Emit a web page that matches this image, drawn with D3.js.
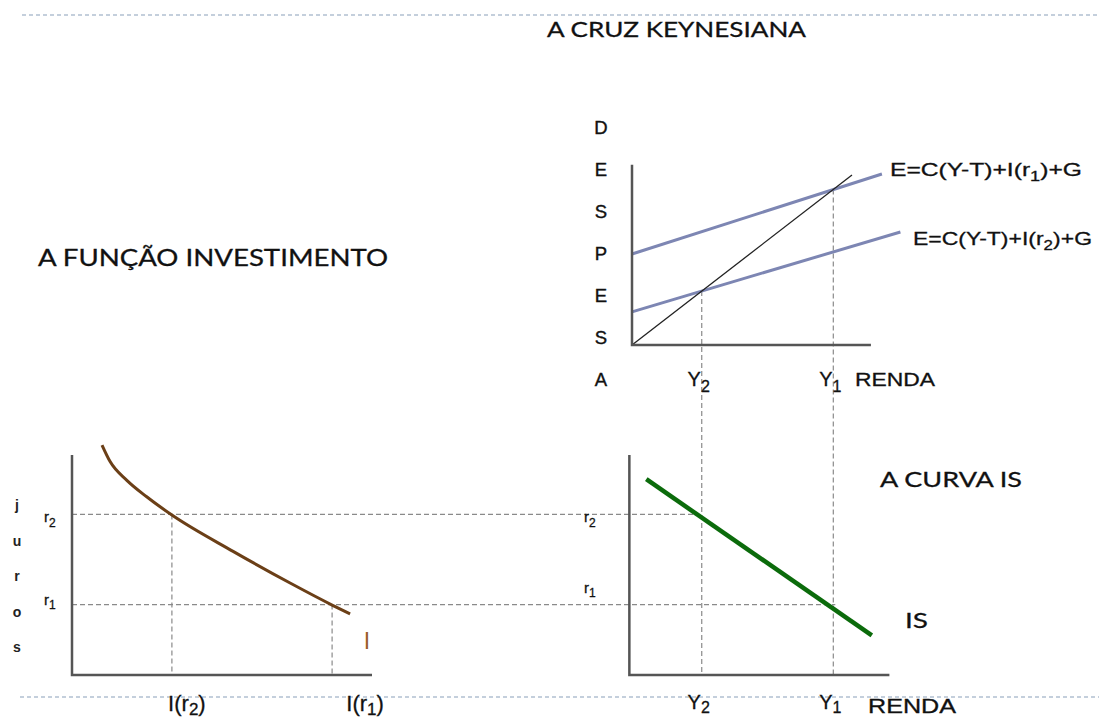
<!DOCTYPE html>
<html><head><meta charset="utf-8">
<script src="https://cdn.jsdelivr.net/npm/d3@7"></script>
<style>html,body{margin:0;padding:0;background:#fff}svg{display:block}</style>
</head><body>
<svg id="c" width="1099" height="718"></svg>
<script>
// ---------- data ----------
const titles = ["A CRUZ KEYNESIANA", "A FUNÇÃO INVESTIMENTO", "A CURVA IS"];
const despesaLetters = ["D","E","S","P","E","S","A"];
const jurosLetters = ["j","u","r","o","s"];
const line45 = [[0,0],[100,100]];
const eUpper = [[0,53.5],[113.6,100.6]];   // E=C(Y-T)+I(r1)+G
const eLower = [[0,19.5],[122,66.5]];      // E=C(Y-T)+I(r2)+G
const incomeLevels = [{name:"Y", sub:"2", value:31.7, eLevel:31.7}, {name:"Y", sub:"1", value:91.5, eLevel:91.5}];
const rateLevels = [{name:"r", sub:"2", value:73}, {name:"r", sub:"1", value:32}];
const investCurve = [[10,104.5],[12.7,97],[18.2,88.6],[24.9,81],[33.3,72.7],[53.7,56.2],[72.7,41.8],[86.7,31.8],[92.7,27.8]];
const investAt = [{sub:"2", value:33.3, r:73},{sub:"1", value:86.7, r:32}];
const isCurve = [[6.5,89],[109,18]];

// ---------- scales ----------
const svg = d3.select("#c");
const xK = d3.scaleLinear().domain([0,100]).range([632,852]);
const yK = d3.scaleLinear().domain([0,100]).range([345,175]);
const xI = d3.scaleLinear().domain([0,100]).range([72,372]);
const yR = d3.scaleLinear().domain([0,100]).range([675,455]);
const line = (xs, ys) => d3.line().x(d=>xs(d[0])).y(d=>ys(d[1]));

const txtFont = "'Liberation Sans', Arial, sans-serif";
const titleFont = "Lato, 'Open Sans', sans-serif";
const axisCol = "#555", dashCol = "#8a8a8a";

// decorative dotted rules
svg.append("line").attr("x1",22).attr("x2",1099).attr("y1",15).attr("y2",15)
  .attr("stroke","#c4cfdc").attr("stroke-width",2).attr("stroke-dasharray","4,3");
svg.append("line").attr("x1",20).attr("x2",1099).attr("y1",697).attr("y2",697)
  .attr("stroke","#c4cfdc").attr("stroke-width",2).attr("stroke-dasharray","4,3");

// titles
function title(x,y,txt,size,len){
  svg.append("text").attr("x",x).attr("y",y).attr("font-family",titleFont).attr("font-size",size)
    .attr("fill","#111").attr("stroke","#111").attr("stroke-width",0.3)
    .attr("textLength",len).attr("lengthAdjust","spacingAndGlyphs").text(txt);
}
title(547,37,titles[0],22,259);
title(38,266,titles[1],23,350);
title(880,487,titles[2],22,142);

// ---------- dashed guides ----------
const g = svg.append("g").attr("stroke",dashCol).attr("stroke-width",1.2).attr("stroke-dasharray","5,3").attr("fill","none");
incomeLevels.forEach(d=>{
  g.append("line").attr("x1",xK(d.value)).attr("x2",xK(d.value)).attr("y1",yK(d.eLevel)).attr("y2",yR(0));
});
rateLevels.forEach((d,i)=>{
  g.append("line").attr("x1",xI(0)).attr("x2",xK(incomeLevels[i].value)+(i===1?2:-3)).attr("y1",yR(d.value)).attr("y2",yR(d.value));
});
investAt.forEach(d=>{
  g.append("line").attr("x1",xI(d.value)).attr("x2",xI(d.value)).attr("y1",yR(d.r)).attr("y2",yR(0));
});

// ---------- Keynesian cross ----------
svg.append("path").attr("d",line(xK,yK)(eUpper)).attr("stroke","#7d86b3").attr("stroke-width",3).attr("fill","none");
svg.append("path").attr("d",line(xK,yK)(eLower)).attr("stroke","#7d86b3").attr("stroke-width",3).attr("fill","none");
svg.append("path").attr("d",line(xK,yK)(line45)).attr("stroke","#222").attr("stroke-width",1.3).attr("fill","none");
svg.append("path").attr("d",`M${xK(0)},${yK(106)}V${yK(0)}H${xK(108.6)}`).attr("stroke",axisCol).attr("stroke-width",2.5).attr("fill","none");

despesaLetters.forEach((l,i)=>{
  svg.append("text").attr("x",601).attr("y",134+i*42).attr("text-anchor","middle")
    .attr("font-family",txtFont).attr("font-size",18.5).attr("fill","#111").attr("stroke","#111").attr("stroke-width",0.4).text(l);
});
function subLabel(x,y,name,sub,size,anchor,dyf){
  const t = svg.append("text").attr("x",x).attr("y",y).attr("text-anchor",anchor||"start")
    .attr("font-family",txtFont).attr("font-size",size).attr("fill","#111").attr("stroke","#111").attr("stroke-width",0.3);
  t.append("tspan").text(name);
  t.append("tspan").attr("dy",size*(dyf==null?0.3:dyf)).attr("font-size",size*0.8).text(sub);
  return t;
}
incomeLevels.forEach(d=>{
  subLabel(xK(d.value)-3,386,d.name,d.sub,20,"middle");
});
svg.append("text").attr("x",855).attr("y",386).attr("font-family",txtFont).attr("font-size",18.5)
  .attr("fill","#111").attr("stroke","#111").attr("stroke-width",0.3).attr("textLength",80).attr("lengthAdjust","spacingAndGlyphs").text("RENDA");

function eqLabel(x,y,sub,len){
  const t = svg.append("text").attr("x",x).attr("y",y).attr("font-family",txtFont).attr("font-size",19)
    .attr("fill","#111").attr("stroke","#111").attr("stroke-width",0.3)
    .attr("textLength",len).attr("lengthAdjust","spacingAndGlyphs");
  t.append("tspan").text("E=C(Y-T)+I(r");
  t.append("tspan").attr("dy",5).attr("font-size",14).text(sub);
  t.append("tspan").attr("dy",-5).text(")+G");
  return t;
}
eqLabel(890,176,"1",192);
eqLabel(913,245,"2",179);

// ---------- investment function ----------
svg.append("path").attr("d",line(xI,yR).curve(d3.curveMonotoneX)(investCurve))
  .attr("stroke","#6b3f17").attr("stroke-width",3).attr("fill","none");
svg.append("path").attr("d",`M${xI(0)},${yR(100)}V${yR(0)}H${xI(100)}`).attr("stroke",axisCol).attr("stroke-width",2.5).attr("fill","none");
svg.append("text").attr("x",367).attr("y",649).attr("text-anchor","middle").attr("font-family",txtFont).attr("font-size",23).attr("fill","#9a6028").text("I");

jurosLetters.forEach((l,i)=>{
  svg.append("text").attr("x",17).attr("y",510+i*35.5).attr("text-anchor","middle")
    .attr("font-family",txtFont).attr("font-size",14).attr("font-weight","bold").attr("fill","#222").text(l);
});
rateLevels.forEach(d=>{
  subLabel(44,yR(d.value)+(d.sub==="2"?8:0),d.name,d.sub,15,"start");
  subLabel(584,yR(d.value)+(d.sub==="2"?8:-12),d.name,d.sub,15,"start");
});
const investLabelOffset = [15, 33];
investAt.forEach((d,i)=>{
  const t = svg.append("text").attr("x",xI(d.value)+investLabelOffset[i]).attr("y",711).attr("text-anchor","middle")
    .attr("font-family",txtFont).attr("font-size",22).attr("fill","#111").attr("stroke","#111").attr("stroke-width",0.3);
  t.append("tspan").text("I(r");
  t.append("tspan").attr("dy",4).attr("font-size",17).text(d.sub);
  t.append("tspan").attr("dy",-4).text(")");
});

// ---------- IS curve ----------
svg.append("path").attr("d",line(xK,yR)(isCurve)).attr("stroke","#0b6b0b").attr("stroke-width",4.5).attr("fill","none");
svg.append("path").attr("d",`M${xK(-1.2)},${yR(100)}V${yR(0)}H${xK(117)}`).attr("stroke",axisCol).attr("stroke-width",2.5).attr("fill","none");
svg.append("text").attr("x",905).attr("y",628).attr("font-family",titleFont).attr("font-size",22)
  .attr("fill","#111").attr("stroke","#111").attr("stroke-width",0.3).attr("textLength",23).attr("lengthAdjust","spacingAndGlyphs").text("IS");
incomeLevels.forEach(d=>{
  subLabel(xK(d.value)-3,709,d.name,d.sub,20,"middle",0.2);
});
svg.append("text").attr("x",868).attr("y",713).attr("font-family",txtFont).attr("font-size",19.5)
  .attr("fill","#111").attr("stroke","#111").attr("stroke-width",0.3).attr("textLength",88).attr("lengthAdjust","spacingAndGlyphs").text("RENDA");
</script>
</body></html>
